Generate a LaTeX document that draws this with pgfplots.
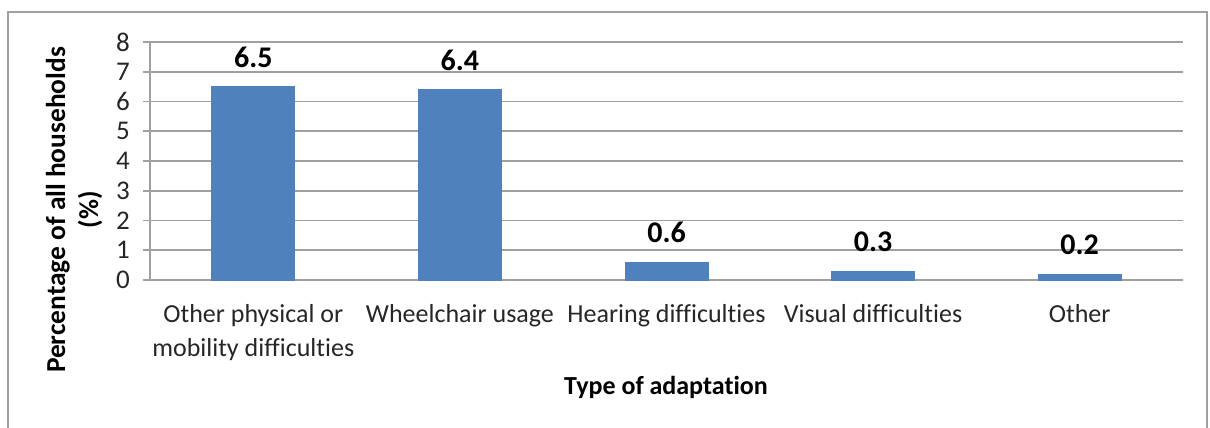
\documentclass[border=0pt]{standalone}
\usepackage{pgfplots}
\pgfplotsset{compat=1.18}
\usepackage{fontspec}
\setmainfont{Carlito}[Ligatures=NoCommon]
\definecolor{barblue}{HTML}{4F81BD}
\definecolor{gridgray}{HTML}{A0A0A0}
\begin{document}
\begin{tikzpicture}
\path[use as bounding box] (0,0) rectangle (605pt,214pt);
\draw[gridgray, line width=0.8pt] (4pt,-2pt) -- (4pt,208pt) -- (603.5pt,208pt) -- (603.5pt,-2pt);
\begin{axis}[
  at={(75pt,74pt)}, anchor=south west,
  scale only axis, width=516.5pt, height=119pt,
  ybar, bar width=41.5pt,
  xmin=-0.5, xmax=4.5, ymin=0, ymax=8,
  ytick={0,1,...,8},
  xtick={0,1,2,3,4},
  xticklabels={Other physical or\\mobility difficulties, Wheelchair usage, Hearing difficulties, Visual difficulties, Other},
  xticklabel style={align=center, font=\fontsize{13}{17}\selectfont, text=black!85, yshift=-5pt},
  yticklabel style={font=\fontsize{13.5}{14}\selectfont, text=black!85, xshift=-3pt},
  /pgf/number format/assume math mode=true,
  x tick style={draw=none},
  extra x ticks={-0.5,0.5,1.5,2.5,3.5,4.5},
  extra x tick labels={},
  extra x tick style={tick style={draw=gridgray, line width=0.8pt}, major tick length=4.5pt},
  tick align=outside,
  y tick style={draw=gridgray, line width=0.8pt},
  major tick length=3.5pt,
  ymajorgrids, grid style={gridgray, line width=0.8pt},
  axis x line*=bottom, axis y line*=left,
  axis line style={gridgray, line width=0.8pt, -},
  nodes near coords,
  nodes near coords style={font=\bfseries\fontsize{15}{16}\selectfont, yshift=6pt,
    /pgf/number format/fixed, /pgf/number format/fixed zerofill, /pgf/number format/precision=1},
  clip=false,
]
\addplot[fill=barblue, draw=barblue] coordinates {(0,6.5) (1,6.4) (2,0.6) (3,0.3) (4,0.2)};
\end{axis}
\node[font=\bfseries\fontsize{13.7}{16.5}\selectfont, rotate=90, align=center] at (37pt,109pt) {Percentage of all households\\(\%)};
\node[font=\bfseries\fontsize{13}{15}\selectfont] at (333pt,20.5pt) {Type of adaptation};
\end{tikzpicture}
\end{document}
